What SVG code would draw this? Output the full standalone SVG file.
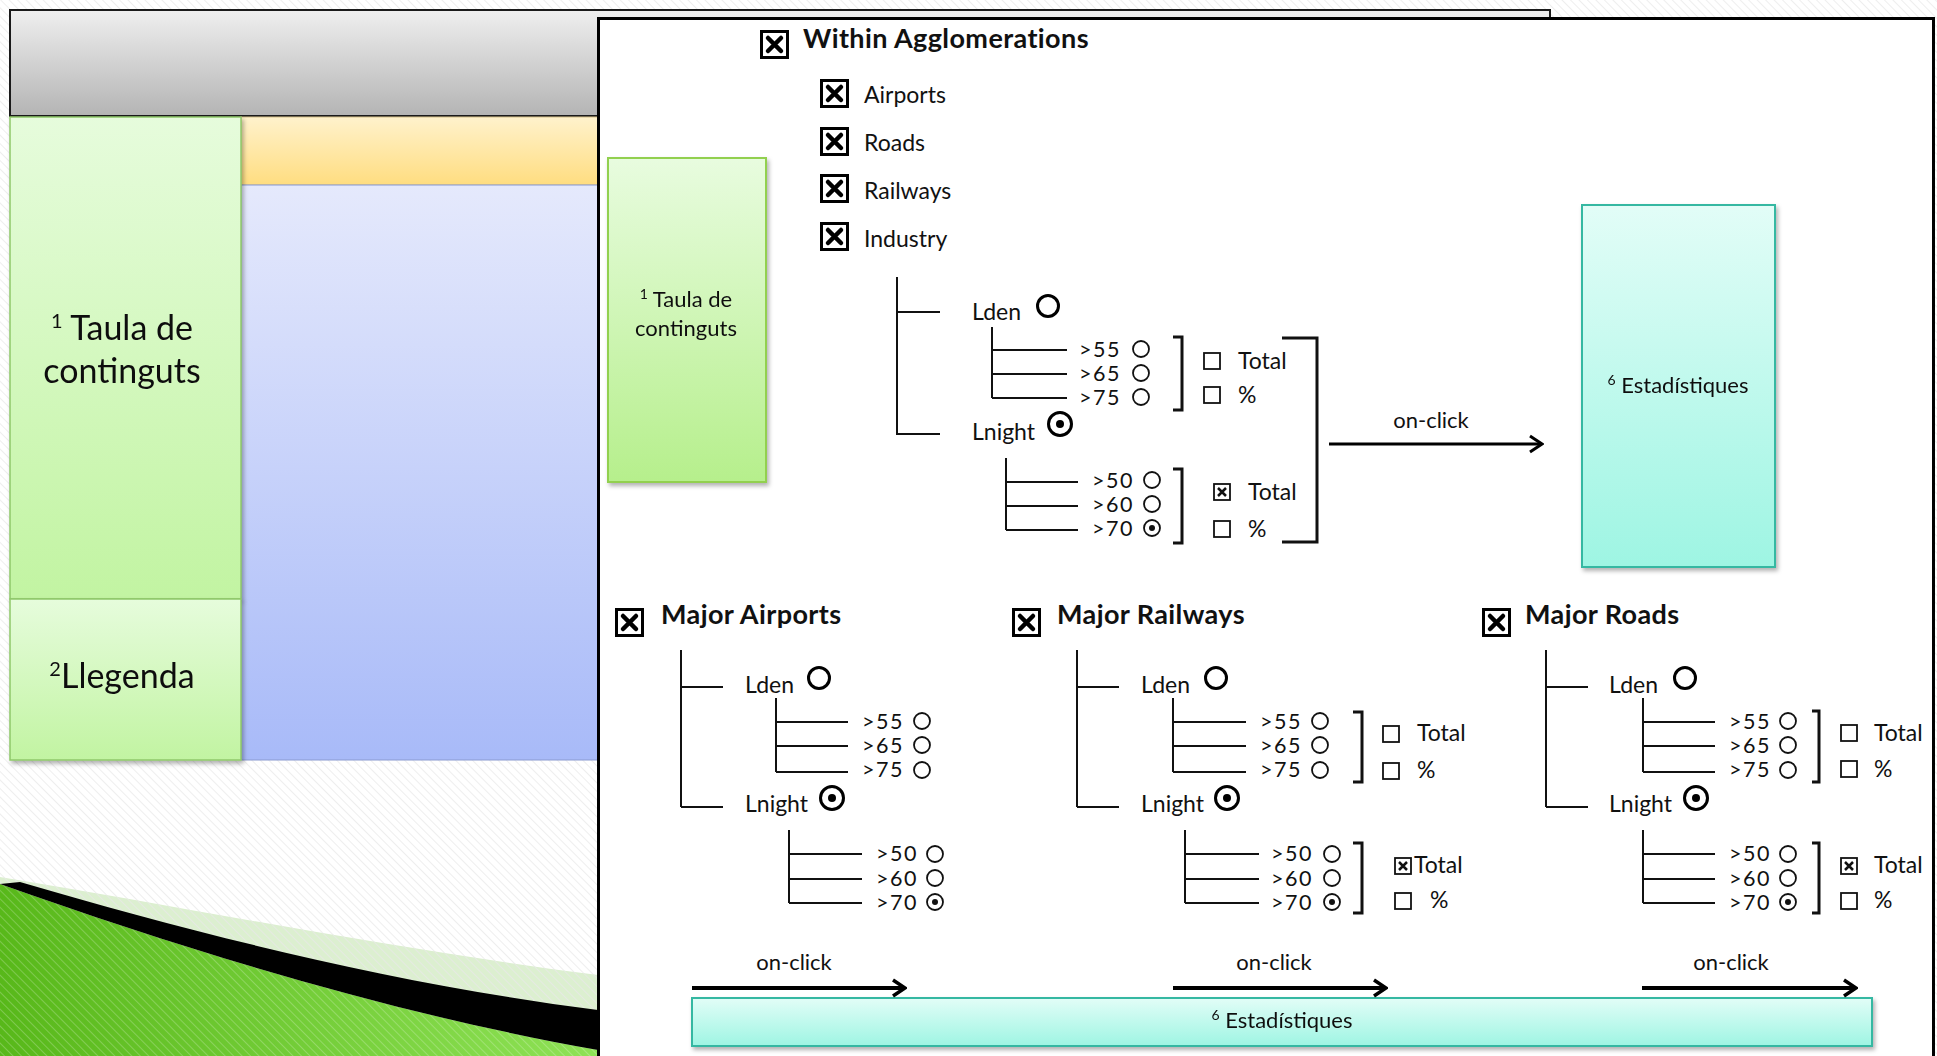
<svg xmlns="http://www.w3.org/2000/svg" xmlns:xlink="http://www.w3.org/1999/xlink" width="1937" height="1056" viewBox="0 0 1937 1056">
<style>
.t{font-family:Lato,'Liberation Sans',sans-serif;fill:#111}
.lbl{font-size:23px}
.thr{font-size:21.5px;letter-spacing:1.5px}
.hdr{font-size:27px;font-weight:bold;letter-spacing:0.4px}
.big{font-size:34px}
.ln{stroke:#111;stroke-width:2;fill:none}
.br{stroke:#111;stroke-width:3;fill:none}
.arr{stroke:#000;stroke-width:3;fill:none}
.arr2{stroke:#000;stroke-width:4;fill:none}
</style>
<defs>
<pattern id="hatch" width="6" height="6" patternUnits="userSpaceOnUse" patternTransform="rotate(-45)">
<line x1="0" y1="0" x2="0" y2="6" stroke="#e8e8e8" stroke-width="1.5"/>
</pattern>
<pattern id="hatchG" width="6" height="6" patternUnits="userSpaceOnUse" patternTransform="rotate(-45)">
<line x1="0" y1="0" x2="0" y2="6" stroke="#ffffff" stroke-opacity="0.3" stroke-width="1.5"/>
</pattern>
<linearGradient id="gGray" x1="0" y1="0" x2="0" y2="1"><stop offset="0" stop-color="#efefef"/><stop offset="1" stop-color="#b4b4b4"/></linearGradient>
<linearGradient id="gGreen" x1="0" y1="0" x2="0" y2="1"><stop offset="0" stop-color="#e6fcdc"/><stop offset="1" stop-color="#c2f4a2"/></linearGradient>
<linearGradient id="gGreen2" x1="0" y1="0" x2="0" y2="1"><stop offset="0" stop-color="#e8fcdf"/><stop offset="1" stop-color="#b6ef8c"/></linearGradient>
<linearGradient id="gOrange" x1="0" y1="0" x2="0" y2="1"><stop offset="0" stop-color="#fff2cc"/><stop offset="1" stop-color="#ffdd80"/></linearGradient>
<linearGradient id="gBlue" x1="0" y1="0" x2="0" y2="1"><stop offset="0" stop-color="#e5e9fc"/><stop offset="1" stop-color="#a8baf8"/></linearGradient>
<linearGradient id="gCyan" x1="0" y1="0" x2="0" y2="1"><stop offset="0" stop-color="#e2fdf7"/><stop offset="1" stop-color="#9ef5e3"/></linearGradient>
<linearGradient id="gSwoosh" x1="0" y1="0" x2="1" y2="0"><stop offset="0" stop-color="#58b81a"/><stop offset="1" stop-color="#8fe256"/></linearGradient>
<filter id="sh" x="-10%" y="-10%" width="130%" height="130%"><feDropShadow dx="2" dy="3" stdDeviation="2" flood-color="#000" flood-opacity="0.3"/></filter>
<g id="bigcb"><rect x="1.5" y="1.5" width="26" height="26" fill="#fff" stroke="#000" stroke-width="3"/><path d="M8,8 L21,21 M21,8 L8,21" stroke="#000" stroke-width="4.5" stroke-linecap="round"/></g>
<g id="sbox"><rect x="1" y="1" width="16" height="16" fill="#fff" stroke="#111" stroke-width="1.8"/></g>
<g id="sboxx"><rect x="1" y="1" width="16" height="16" fill="#fff" stroke="#111" stroke-width="1.8"/><path d="M5,5 L13,13 M13,5 L5,13" stroke="#111" stroke-width="2.5"/></g>
<g id="rbig"><circle r="10.5" fill="#fff" stroke="#000" stroke-width="3"/></g>
<g id="rbigx"><circle r="11.5" fill="#fff" stroke="#000" stroke-width="3"/><circle r="4" fill="#000"/></g>
<g id="rs"><circle r="8" fill="#fff" stroke="#111" stroke-width="1.8"/></g>
<g id="rsx"><circle r="8" fill="#fff" stroke="#111" stroke-width="1.8"/><circle r="3" fill="#111"/></g>
<marker id="ah" viewBox="0 0 16 20" markerWidth="16" markerHeight="20" refX="14" refY="10" orient="auto" markerUnits="userSpaceOnUse"><path d="M2,2 L14,10 L2,18" fill="none" stroke="#000" stroke-width="3"/></marker>
<marker id="ah2" viewBox="0 0 16 20" markerWidth="16" markerHeight="20" refX="14" refY="10" orient="auto" markerUnits="userSpaceOnUse"><path d="M2,2 L14,10 L2,18" fill="none" stroke="#000" stroke-width="3.5"/></marker>
</defs>

<!-- background slide -->
<g id="slide-background">
<rect x="0" y="0" width="1937" height="1056" fill="#fff"/>
<rect x="0" y="0" width="1937" height="1056" fill="url(#hatch)"/>
<rect x="10" y="10" width="1540" height="106" fill="url(#gGray)" stroke="#1a1a1a" stroke-width="2"/>
<rect x="241" y="117" width="357" height="68" fill="url(#gOrange)" stroke="#d6c08a" stroke-width="1"/>
<rect x="241" y="185" width="357" height="575" fill="url(#gBlue)" stroke="#8a9ad0" stroke-width="1"/>
<path d="M0,877 C200,910 400,950 598,975 L598,1056 L0,1056 Z" fill="#dcefd0"/>
<path d="M0,877 C200,910 400,950 598,975 L598,1056 L0,1056 Z" fill="url(#hatch)"/>
<path d="M0,884 C200,955 400,1015 598,1050 L598,1056 L0,1056 Z" fill="url(#gSwoosh)"/>
<path d="M0,884 C200,955 400,1015 598,1050 L598,1056 L0,1056 Z" fill="url(#hatchG)"/>
<path d="M20,882 C200,935 400,985 598,1010 L598,1050 C400,1015 200,955 0,884 Z" fill="#000"/>
</g>
<g id="bg-taula" filter="url(#sh)">
<rect x="10" y="117" width="231" height="482" fill="url(#gGreen)" stroke="#8fc86a" stroke-width="1.5"/>
<text class="t big" x="122" y="340" text-anchor="middle"><tspan font-size="20" dy="-12">1</tspan><tspan dy="12"> Taula de</tspan></text>
<text class="t big" x="122" y="383" text-anchor="middle">continguts</text>
</g>
<g id="bg-llegenda" filter="url(#sh)">
<rect x="10" y="599" width="231" height="161" fill="url(#gGreen)" stroke="#8fc86a" stroke-width="1.5"/>
<text class="t big" x="122" y="688" text-anchor="middle"><tspan font-size="20" dy="-12">2</tspan><tspan dy="12">Llegenda</tspan></text>
</g>

<!-- main panel -->
<g id="panel">
<rect x="598.5" y="18.5" width="1335" height="1050" fill="#fff" stroke="#000" stroke-width="3"/>
</g>

<g id="toc" filter="url(#sh)">
<rect x="608" y="158" width="158" height="324" fill="url(#gGreen2)" stroke="#92d050" stroke-width="2"/>
<text class="t" font-size="22" x="686" y="307" text-anchor="middle"><tspan font-size="14" dy="-8">1</tspan><tspan dy="8"> Taula de</tspan></text>
<text class="t" font-size="22" x="686" y="336" text-anchor="middle">continguts</text>
</g>

<g id="stats-right" filter="url(#sh)">
<rect x="1582" y="205" width="193" height="362" fill="url(#gCyan)" stroke="#35b8a2" stroke-width="2"/>
<text class="t" font-size="22" x="1678" y="393" text-anchor="middle"><tspan font-size="14" dy="-8">6</tspan><tspan dy="8"> Estadístiques</tspan></text>
</g>

<g id="stats-bottom" filter="url(#sh)">
<rect x="692" y="998" width="1180" height="48" fill="url(#gCyan)" stroke="#35b8a2" stroke-width="2"/>
<text class="t" font-size="22" x="1282" y="1028" text-anchor="middle"><tspan font-size="14" dy="-8">6</tspan><tspan dy="8"> Estadístiques</tspan></text>
</g>

<!-- Within Agglomerations -->
<g id="within-agglomerations">
<use href="#bigcb" x="760" y="30"/>
<text class="t hdr" x="803" y="48">Within Agglomerations</text>
<use href="#bigcb" x="820" y="79"/>
<text class="t lbl" x="864" y="103">Airports</text>
<use href="#bigcb" x="820" y="127"/>
<text class="t lbl" x="864" y="151">Roads</text>
<use href="#bigcb" x="820" y="174"/>
<text class="t lbl" x="864" y="199">Railways</text>
<use href="#bigcb" x="820" y="222"/>
<text class="t lbl" x="864" y="247">Industry</text>
<text class="t lbl" x="972" y="320">Lden</text>
<use href="#rbig" x="1048" y="306"/>
<text class="t thr" x="1079" y="357">&gt;55</text>
<text class="t thr" x="1079" y="381">&gt;65</text>
<text class="t thr" x="1079" y="405">&gt;75</text>
<use href="#rs" x="1141" y="349"/>
<use href="#rs" x="1141" y="373"/>
<use href="#rs" x="1141" y="397"/>
<use href="#sbox" x="1203" y="352"/>
<text class="t lbl" x="1238" y="369">Total</text>
<use href="#sbox" x="1203" y="386"/>
<text class="t lbl" x="1238" y="403">%</text>
<text class="t lbl" x="972" y="440">Lnight</text>
<use href="#rbigx" x="1060" y="424"/>
<text class="t thr" x="1092" y="488">&gt;50</text>
<text class="t thr" x="1092" y="512">&gt;60</text>
<text class="t thr" x="1092" y="536">&gt;70</text>
<use href="#rs" x="1152" y="480"/>
<use href="#rs" x="1152" y="504"/>
<use href="#rsx" x="1152" y="528"/>
<use href="#sboxx" x="1213" y="483"/>
<text class="t lbl" x="1248" y="500">Total</text>
<use href="#sbox" x="1213" y="520"/>
<text class="t lbl" x="1248" y="537">%</text>
<text class="t" font-size="22" x="1431" y="428" text-anchor="middle">on-click</text>
</g>

<!-- Major Airports -->
<g id="major-airports">
<use href="#bigcb" x="615" y="608"/>
<text class="t hdr" x="661" y="624">Major Airports</text>
<text class="t lbl" x="745" y="693">Lden</text>
<use href="#rbig" x="819" y="678"/>
<text class="t thr" x="862" y="729">&gt;55</text>
<text class="t thr" x="862" y="753">&gt;65</text>
<text class="t thr" x="862" y="777">&gt;75</text>
<use href="#rs" x="922" y="721"/>
<use href="#rs" x="922" y="745"/>
<use href="#rs" x="922" y="770"/>
<text class="t lbl" x="745" y="812">Lnight</text>
<use href="#rbigx" x="832" y="798"/>
<text class="t thr" x="876" y="861">&gt;50</text>
<text class="t thr" x="876" y="886">&gt;60</text>
<text class="t thr" x="876" y="910">&gt;70</text>
<use href="#rs" x="935" y="854"/>
<use href="#rs" x="935" y="878"/>
<use href="#rsx" x="935" y="902"/>
<text class="t" font-size="22" x="794" y="970" text-anchor="middle">on-click</text>
</g>

<!-- Major Railways -->
<g id="major-railways">
<use href="#bigcb" x="1012" y="608"/>
<text class="t hdr" x="1057" y="624">Major Railways</text>
<text class="t lbl" x="1141" y="693">Lden</text>
<use href="#rbig" x="1216" y="678"/>
<text class="t thr" x="1260" y="729">&gt;55</text>
<text class="t thr" x="1260" y="753">&gt;65</text>
<text class="t thr" x="1260" y="777">&gt;75</text>
<use href="#rs" x="1320" y="721"/>
<use href="#rs" x="1320" y="745"/>
<use href="#rs" x="1320" y="770"/>
<use href="#sbox" x="1382" y="725"/>
<text class="t lbl" x="1417" y="741">Total</text>
<use href="#sbox" x="1382" y="762"/>
<text class="t lbl" x="1417" y="778">%</text>
<text class="t lbl" x="1141" y="812">Lnight</text>
<use href="#rbigx" x="1227" y="798"/>
<text class="t thr" x="1271" y="861">&gt;50</text>
<text class="t thr" x="1271" y="886">&gt;60</text>
<text class="t thr" x="1271" y="910">&gt;70</text>
<use href="#rs" x="1332" y="854"/>
<use href="#rs" x="1332" y="878"/>
<use href="#rsx" x="1332" y="902"/>
<use href="#sboxx" x="1394" y="857"/>
<text class="t lbl" x="1414" y="873">Total</text>
<use href="#sbox" x="1394" y="892"/>
<text class="t lbl" x="1430" y="908">%</text>
<text class="t" font-size="22" x="1274" y="970" text-anchor="middle">on-click</text>
</g>

<!-- Major Roads -->
<g id="major-roads">
<use href="#bigcb" x="1482" y="608"/>
<text class="t hdr" x="1525" y="624">Major Roads</text>
<text class="t lbl" x="1609" y="693">Lden</text>
<use href="#rbig" x="1685" y="678"/>
<text class="t thr" x="1729" y="729">&gt;55</text>
<text class="t thr" x="1729" y="753">&gt;65</text>
<text class="t thr" x="1729" y="777">&gt;75</text>
<use href="#rs" x="1788" y="721"/>
<use href="#rs" x="1788" y="745"/>
<use href="#rs" x="1788" y="770"/>
<use href="#sbox" x="1840" y="724"/>
<text class="t lbl" x="1874" y="741">Total</text>
<use href="#sbox" x="1840" y="760"/>
<text class="t lbl" x="1874" y="777">%</text>
<text class="t lbl" x="1609" y="812">Lnight</text>
<use href="#rbigx" x="1696" y="798"/>
<text class="t thr" x="1729" y="861">&gt;50</text>
<text class="t thr" x="1729" y="886">&gt;60</text>
<text class="t thr" x="1729" y="910">&gt;70</text>
<use href="#rs" x="1788" y="854"/>
<use href="#rs" x="1788" y="878"/>
<use href="#rsx" x="1788" y="902"/>
<use href="#sboxx" x="1840" y="857"/>
<text class="t lbl" x="1874" y="873">Total</text>
<use href="#sbox" x="1840" y="892"/>
<text class="t lbl" x="1874" y="908">%</text>
<text class="t" font-size="22" x="1731" y="970" text-anchor="middle">on-click</text>
</g>

<!-- connectors -->
<g id="connectors">
<!-- within agglomerations tree -->
<path class="ln" d="M897,277 V435 M897,312 H940 M897,434 H940"/>
<path class="ln" d="M992,327 V398 M992,350 H1067 M992,374 H1067 M992,398 H1067"/>
<path class="ln" d="M1006,458 V530 M1006,482 H1078 M1006,506 H1078 M1006,530 H1078"/>
<path class="br" d="M1173,337 H1182 V410 H1173"/>
<path class="br" d="M1173,469 H1182 V543 H1173"/>
<path class="br" d="M1282,338 H1317 V542 H1282"/>
<line class="arr" x1="1329" y1="444" x2="1542" y2="444" marker-end="url(#ah)"/>
<!-- airports tree -->
<path class="ln" d="M681,650 V807 M681,687 H723 M681,807 H723"/>
<path class="ln" d="M776,698 V772 M776,722 H848 M776,746 H848 M776,772 H848"/>
<path class="ln" d="M789,830 V903 M789,854 H862 M789,879 H862 M789,903 H862"/>
<!-- railways tree -->
<path class="ln" d="M1077,650 V807 M1077,687 H1119 M1077,807 H1119"/>
<path class="ln" d="M1173,698 V772 M1173,722 H1246 M1173,746 H1246 M1173,772 H1246"/>
<path class="ln" d="M1185,830 V903 M1185,854 H1259 M1185,879 H1259 M1185,903 H1259"/>
<path class="br" d="M1353,712 H1362 V782 H1353"/>
<path class="br" d="M1353,843 H1362 V913 H1353"/>
<!-- roads tree -->
<path class="ln" d="M1546,650 V807 M1546,687 H1588 M1546,807 H1588"/>
<path class="ln" d="M1643,698 V772 M1643,722 H1715 M1643,746 H1715 M1643,772 H1715"/>
<path class="ln" d="M1643,830 V903 M1643,854 H1715 M1643,879 H1715 M1643,903 H1715"/>
<path class="br" d="M1812,711 H1819 V782 H1812"/>
<path class="br" d="M1812,843 H1819 V913 H1812"/>
<!-- on-click arrows to bottom stats -->
<line class="arr2" x1="692" y1="988" x2="905" y2="988" marker-end="url(#ah2)"/>
<line class="arr2" x1="1173" y1="988" x2="1386" y2="988" marker-end="url(#ah2)"/>
<line class="arr2" x1="1642" y1="988" x2="1856" y2="988" marker-end="url(#ah2)"/>
</g>
</svg>
